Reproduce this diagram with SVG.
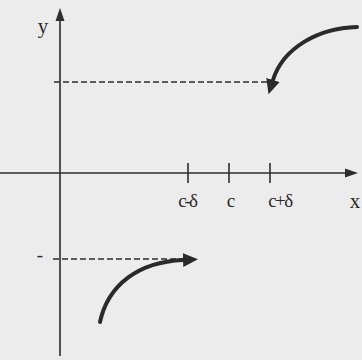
<svg xmlns="http://www.w3.org/2000/svg" width="362" height="360" viewBox="0 0 362 360">
  <style>
    .axis { stroke: #2e2e2e; stroke-width: 1.6; fill: none; }
    .tick { stroke: #2e2e2e; stroke-width: 1.6; }
    .dash { stroke: #2e2e2e; stroke-width: 1.6; stroke-dasharray: 6 3; fill: none; }
    .curve { stroke: #2a2a2a; stroke-width: 4; fill: none; stroke-linecap: round; }
    .lbl { font-family: "Liberation Serif", "DejaVu Serif", serif; font-size: 19px; fill: #2a2a2a; text-anchor: middle; }
    .big { font-size: 21px; }
  </style>
  <defs>
    <marker id="head" markerUnits="userSpaceOnUse" viewBox="0 -7 15 14" markerWidth="15" markerHeight="14" refX="0" refY="0" orient="auto">
      <path d="M0,-7 L15,0 L0,7 z" fill="#2a2a2a"/>
    </marker>
  </defs>
  <rect width="362" height="360" fill="#ececec"/>
  <g id="axes">
    <line class="axis" x1="60" y1="356" x2="60" y2="18"/>
    <polygon points="60,8 55.5,21 64.5,21" fill="#2e2e2e"/>
    <line class="axis" x1="0" y1="173" x2="347" y2="173"/>
    <polygon points="358,173 345,168.5 345,177.5" fill="#2e2e2e"/>
    <line class="tick" x1="188" y1="163" x2="188" y2="183"/>
    <line class="tick" x1="229" y1="163" x2="229" y2="183"/>
    <line class="tick" x1="270" y1="163" x2="270" y2="183"/>
  </g>
  <g id="labels">
    <text class="lbl big" x="43" y="33">y</text>
    <text class="lbl big" x="355" y="208">x</text>
    <text class="lbl" x="187" y="207" letter-spacing="-2">c-δ</text>
    <text class="lbl" x="231" y="207">c</text>
    <text class="lbl" x="280" y="207" letter-spacing="-1.5">c+δ</text>
    <text class="lbl" x="40" y="261">-</text>
  </g>
  <g id="connectors">
    <line class="dash" x1="54" y1="82" x2="268" y2="82"/>
    <line class="dash" x1="53" y1="259" x2="188" y2="259"/>
    <path class="curve" d="M357,27 C318,28 283,48 273,80" marker-end="url(#head)"/>
    <path class="curve" d="M100,322 C108,285 138,262 183,260" marker-end="url(#head)"/>
  </g>
</svg>
